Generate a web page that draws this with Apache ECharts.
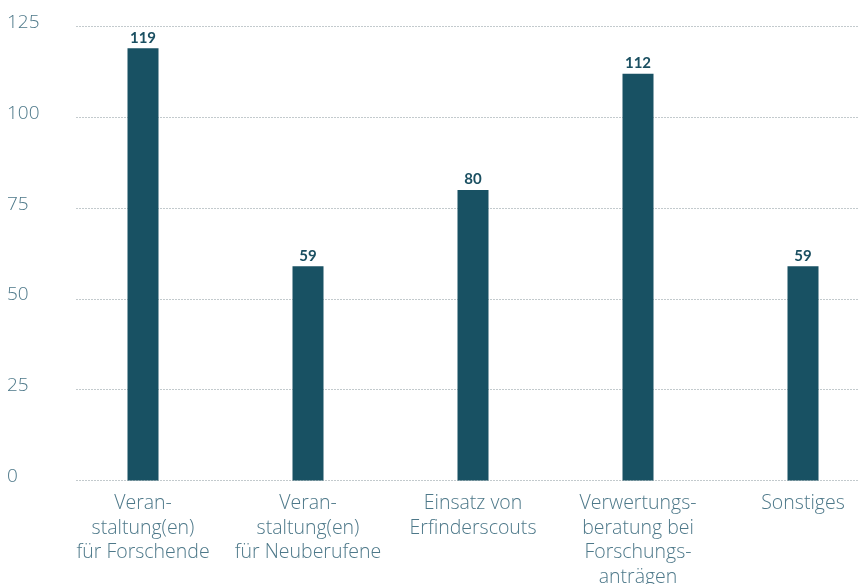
<!DOCTYPE html>
<html>
<head>
<meta charset="utf-8">
<script src="https://cdn.jsdelivr.net/npm/echarts@6/dist/echarts.min.js"></script>
<style>
html,body{margin:0;padding:0;background:#fff;}
#c{width:859px;height:584px;}
</style>
</head>
<body>
<div id="c"></div>
<script>
var categories = [
  "Veran-\nstaltung(en)\nfür Forschende",
  "Veran-\nstaltung(en)\nfür Neuberufene",
  "Einsatz von\nErfinderscouts",
  "Verwertungs-\nberatung bei\nForschungs-\nanträgen",
  "Sonstiges"
];
var values = [119, 59, 80, 112, 59];
var yTicks = [0, 25, 50, 75, 100, 125];

var FONT = "'Open Sans', Lato, sans-serif";
var chart = echarts.init(document.getElementById('c'), null, {renderer: 'canvas'});
chart.setOption({
  animation: false,
  grid: [
    {left: 76, right: 0, top: 26.5, bottom: 103.5, outerBoundsMode: 'none', containLabel: false},
    {left: 60.5, width: 825, top: 26.5, bottom: 103.5, outerBoundsMode: 'none', containLabel: false}
  ],
  xAxis: [
    {type: 'value', gridIndex: 0, show: false, min: 0, max: 1},
    {
      type: 'category', gridIndex: 1, data: categories,
      axisLine: {show: false}, axisTick: {show: false},
      axisLabel: {
        interval: 0, margin: 11, color: '#4d7889',
        fontFamily: FONT, fontSize: 19.5, fontWeight: 300, lineHeight: 24.5
      }
    }
  ],
  yAxis: [
    {
      type: 'value', gridIndex: 0, min: yTicks[0], max: yTicks[yTicks.length - 1], interval: 25,
      axisLine: {show: false}, axisTick: {show: false},
      splitLine: {show: true, lineStyle: {color: '#c3cacd', type: [2, 1], width: 1}},
      axisLabel: {
        align: 'left', verticalAlign: 'bottom', lineHeight: 8, margin: 69, color: '#4d7889',
        fontFamily: FONT, fontSize: 19, fontWeight: 300
      }
    },
    {
      type: 'value', gridIndex: 1, min: yTicks[0], max: yTicks[yTicks.length - 1], interval: 25,
      show: false, splitLine: {show: false}
    }
  ],
  series: [{
    type: 'bar', xAxisIndex: 1, yAxisIndex: 1,
    data: values, barWidth: 31,
    itemStyle: {color: '#185163'},
    label: {
      show: true, position: 'top', distance: 3,
      color: '#1a4f61', fontFamily: "Lato, 'Open Sans', sans-serif", fontSize: 15, fontWeight: 'bold'
    }
  }]
});
</script>
</body>
</html>
